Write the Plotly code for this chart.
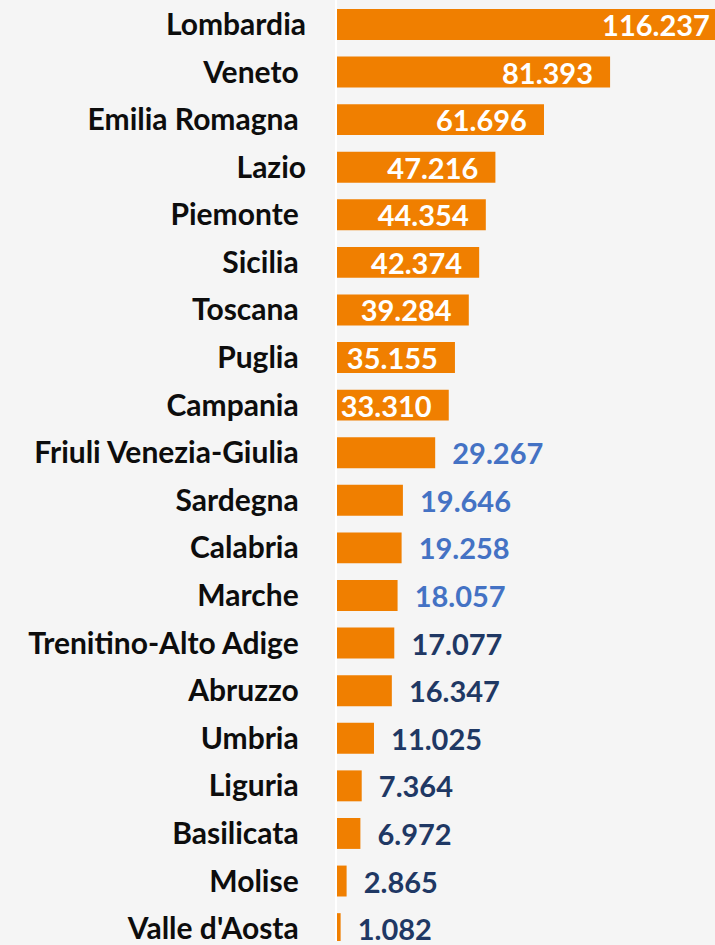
import plotly.graph_objects as go

regions = ["Lombardia", "Veneto", "Emilia Romagna", "Lazio", "Piemonte", "Sicilia",
           "Toscana", "Puglia", "Campania", "Friuli Venezia-Giulia", "Sardegna",
           "Calabria", "Marche", "Trenitino-Alto Adige", "Abruzzo", "Umbria",
           "Liguria", "Basilicata", "Molise", "Valle d'Aosta"]
values = [116237, 81393, 61696, 47216, 44354, 42374, 39284, 35155, 33310, 29267,
          19646, 19258, 18057, 17077, 16347, 11025, 7364, 6972, 2865, 1082]
# labels as they appear on the axis (most carry a trailing space in the source)
tick_labels = ["Lombardia", "Veneto\u00a0", "Emilia Romagna\u00a0", "Lazio", "Piemonte\u00a0",
               "Sicilia\u00a0", "Toscana\u00a0", "Puglia\u00a0", "Campania\u00a0",
               "Friuli Venezia-Giulia\u00a0", "Sardegna\u00a0", "Calabria\u00a0", "Marche\u00a0",
               "Trenitino-Alto Adige\u00a0", "Abruzzo\u00a0", "Umbria\u00a0", "Liguria\u00a0",
               "Basilicata\u00a0", "Molise\u00a0", "Valle d'Aosta\u00a0"]

N_INSIDE = 9
N_BLUE = 4
BAR = "#F07F00"
WHITE = "#FFFFFF"
BLUE = "#4472C4"
NAVY = "#1F3864"
BG = "#F5F5F5"
FONT = "Lato"

n = len(regions)
positions, colors, templates = [], [], []
for i in range(n):
    if i < N_INSIDE:
        positions.append("inside")
        colors.append(WHITE)
        templates.append("%{x:,.0f}\u00a0\u00a0")
    else:
        positions.append("outside")
        colors.append(BLUE if i < N_INSIDE + N_BLUE else NAVY)
        templates.append("\u00a0\u00a0%{x:,.0f}")

fig = go.Figure(go.Bar(
    x=values, y=list(range(n)), orientation="h",
    marker=dict(color=BAR, line=dict(width=0)),
    texttemplate=templates, textposition=positions,
    insidetextanchor="end",
    textfont=dict(family=FONT, size=29, color=colors, weight="bold"),
    constraintext="none", cliponaxis=True,
))

fig.update_layout(
    width=715, height=945,
    margin=dict(l=337, r=0, t=0, b=0),
    paper_bgcolor=BG, plot_bgcolor=BG,
    bargap=0.35, separators=",.", showlegend=False,
)
fig.update_xaxes(range=[0, 112667], showgrid=False, zeroline=False,
                 showticklabels=False, showline=False)
fig.update_yaxes(tickmode="array", tickvals=list(range(n)), ticktext=tick_labels,
                 range=[19.26, -0.513], showgrid=False, zeroline=False,
                 showline=True, linecolor="#FFFFFF", linewidth=2,
                 ticks="", ticklabelstandoff=23, ticklabeloverflow="allow",
                 tickfont=dict(family=FONT, size=30, color="#0D0D0D", weight="bold"))

fig.write_html(
    "out.html",
    config={"displayModeBar": False},
    post_script="document.body.style.margin='0';document.body.style.background='%s';"
                "document.body.style.overflow='hidden';" % BG,
)
